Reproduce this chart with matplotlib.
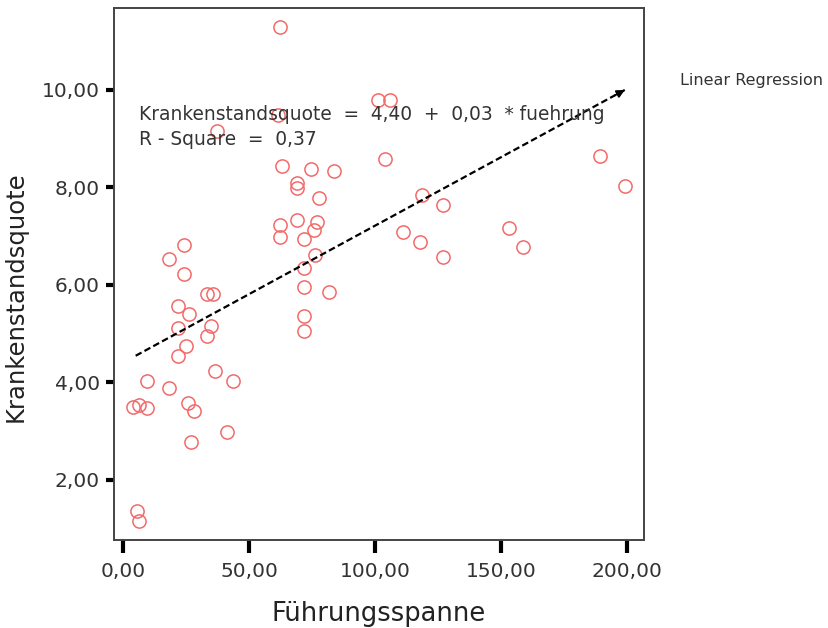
import numpy as np
import matplotlib
matplotlib.use("Agg")
import matplotlib.pyplot as plt

# Führungsspanne (x) und Krankenstandsquote (y)
fuehrung = [62.3, 101.2, 106.0, 37.3, 61.5, 63.1, 74.6, 83.7, 104.0, 69.0,
            69.0, 77.8, 62.3, 69.0, 77.0, 75.8, 62.3, 71.8, 24.2, 18.3,
            24.2, 76.0, 71.8, 71.8, 81.7, 71.8, 71.8, 33.3, 35.7, 21.8,
            26.2, 21.8, 34.9, 33.3, 25.0, 21.8, 36.5, 9.5, 43.7, 18.3,
            4.0, 6.3, 9.5, 25.8, 28.2, 41.3, 27.0, 5.6, 6.3,
            189.3, 199.2, 118.7, 127.0, 111.0, 117.9, 127.0, 153.2, 158.7]
quote = [11.28, 9.78, 9.78, 9.15, 9.48, 8.43, 8.37, 8.33, 8.57, 8.08,
         7.98, 7.77, 7.22, 7.32, 7.28, 7.12, 6.97, 6.93, 6.81, 6.52,
         6.22, 6.60, 6.34, 5.95, 5.85, 5.35, 5.05, 5.80, 5.80, 5.56,
         5.39, 5.10, 5.15, 4.94, 4.74, 4.53, 4.22, 4.02, 4.02, 3.88,
         3.49, 3.53, 3.47, 3.57, 3.41, 2.97, 2.77, 1.35, 1.15,
         8.63, 8.02, 7.84, 7.63, 7.08, 6.87, 6.56, 7.16, 6.77]

x_ticks = [0, 50, 100, 150, 200]
y_ticks = [2, 4, 6, 8, 10]

intercept = 4.40
slope = 0.0281
line_x = [5, 200]

fig = plt.figure(figsize=(8.29, 6.28), dpi=100)
ax = fig.add_axes([0.1375, 0.140, 0.6395, 0.847])

ax.plot(fuehrung, quote, 'o', mfc='none', mec='#f26a6a', ms=9.5, mew=1.1)

# Regressionsgerade
ly = [intercept + slope * v for v in line_x]
ax.plot(line_x, ly, color='black', ls=(0, (3, 1.5)), lw=1.6)
ax.annotate('', xy=(line_x[1], ly[1]), xytext=(line_x[1] - 6, ly[1] - 6 * slope),
            arrowprops=dict(arrowstyle='-|>', color='black', lw=1.2, mutation_scale=12))

ax.text(6.2, 9.48, 'Krankenstandsquote  =  4,40  +  0,03  * fuehrung',
        fontsize=13.4, color='#333333', va='center')
ax.text(6.2, 8.97, 'R - Square  =  0,37', fontsize=13.4, color='#333333', va='center')

ax.set_xlim(-3.6, 206.7)
ax.set_ylim(0.76, 11.67)
ax.set_xticks(x_ticks)
ax.set_yticks(y_ticks)
ax.set_xticklabels([('%.2f' % v).replace('.', ',') for v in x_ticks])
ax.set_yticklabels([('%.2f' % v).replace('.', ',') for v in y_ticks])
ax.tick_params(direction='out', width=3, labelsize=14.5, colors='black',
               labelcolor='#333333')
ax.tick_params(axis='x', length=9, pad=7)
ax.tick_params(axis='y', length=6, pad=4)
for s in ax.spines.values():
    s.set_color('#444444')
    s.set_linewidth(1.4)

ax.set_xlabel('Führungsspanne', fontsize=18.5, color='#222222', labelpad=14)
ax.set_ylabel('Krankenstandsquote', fontsize=17.5, color='#222222')
ax.yaxis.set_label_coords(-0.162, 0.457)

fig.text(0.820, 0.872, 'Linear Regression', fontsize=11.5, color='#333333', va='center')

fig.savefig('out.png', dpi=100)
